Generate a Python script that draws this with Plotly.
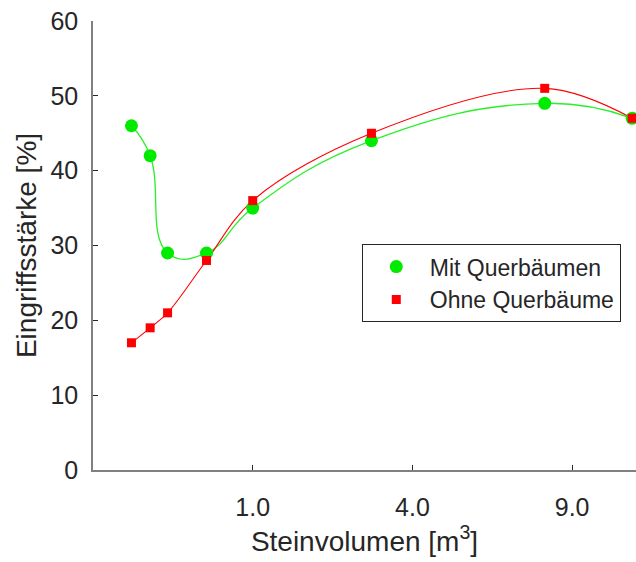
import numpy as np
import plotly.graph_objects as go

# Data (stone volume in m^3, intervention strength in %)
volumen = [0.058, 0.128, 0.218, 0.505, 1.0, 3.04, 8.0, 11.4]
mit_querbaeumen = [46, 42, 29, 29, 35, 44, 49, 47]
ohne_querbaeume = [17, 19, 21, 28, 36, 45, 51, 47]
tick_volumen = [1.0, 4.0, 9.0]
tick_labels = ["1.0", "4.0", "9.0"]

# x axis is a square-root scale
x_sqrt = np.sqrt(volumen)

green = "rgb(0,235,0)"
red = "rgb(255,0,0)"

fig = go.Figure()
# smooth connecting lines (not shown in legend)
fig.add_trace(go.Scatter(
    x=x_sqrt, y=mit_querbaeumen, mode="lines", showlegend=False, hoverinfo="skip",
    line=dict(color="rgb(40,240,40)", width=1.3, shape="spline", smoothing=1.3),
))
fig.add_trace(go.Scatter(
    x=x_sqrt, y=ohne_querbaeume, mode="lines", showlegend=False, hoverinfo="skip",
    line=dict(color=red, width=1.1, shape="spline", smoothing=1.0),
))
# markers (shown in legend)
fig.add_trace(go.Scatter(
    x=x_sqrt, y=mit_querbaeumen, mode="markers", name="Mit Querbäumen",
    marker=dict(symbol="circle", size=13, color=green),
))
fig.add_trace(go.Scatter(
    x=x_sqrt, y=ohne_querbaeume, mode="markers", name="Ohne Querbäume",
    marker=dict(symbol="square", size=9, color=red),
))

font_family = "Liberation Sans, Arial, sans-serif"
fig.update_layout(
    width=636, height=562,
    margin=dict(l=93, r=0, t=21, b=92),
    paper_bgcolor="white", plot_bgcolor="white",
    font=dict(family=font_family, color="#262626"),
    showlegend=True,
    legend=dict(
        x=0.495, y=0.503, xanchor="left", yanchor="top",
        bgcolor="white", bordercolor="#262626", borderwidth=1,
        font=dict(size=23, color="#262626"), itemwidth=57,
    ),
    xaxis=dict(
        range=[0, 3.40], tickvals=np.sqrt(tick_volumen).tolist(), ticktext=tick_labels,
        showline=True, linecolor="#808080", linewidth=1.5, mirror=False,
        ticks="inside", ticklen=5, tickcolor="#262626", tickwidth=1,
        showgrid=False, zeroline=False,
        tickfont=dict(size=25, color="#262626"), ticklabelstandoff=14,
        title=dict(text="Steinvolumen [m<sup>3</sup>]", font=dict(size=28, color="#262626"), standoff=11),
    ),
    yaxis=dict(
        range=[0, 60], tickvals=[0, 10, 20, 30, 40, 50, 60],
        showline=True, linecolor="#808080", linewidth=1.5, mirror=False,
        ticks="inside", ticklen=5, tickcolor="#262626", tickwidth=1,
        showgrid=False, zeroline=False,
        tickfont=dict(size=25, color="#262626"), ticklabelstandoff=8,
        title=dict(text="Eingriffsstärke [%]", font=dict(size=28, color="#262626"), standoff=6),
    ),
)

fig.write_html("out.html")
